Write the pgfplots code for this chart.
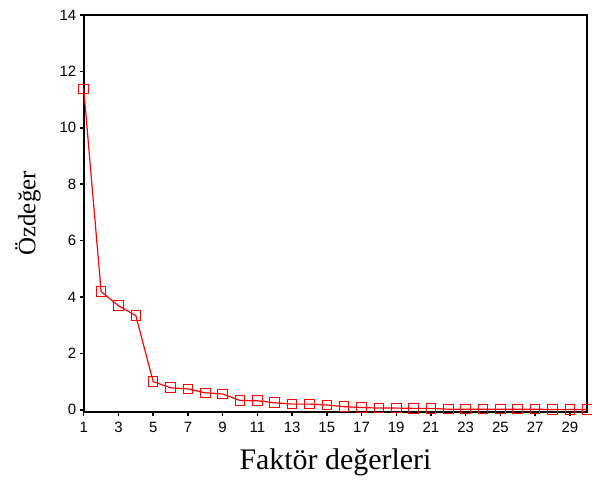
\documentclass[border=0pt]{standalone}
\usepackage{fontspec}
\setmainfont{Liberation Serif}
\newfontfamily\ticksans{Liberation Sans}
\usepackage{pgfplots}
\pgfplotsset{compat=1.18}
\usetikzlibrary{calc}

\begin{document}
\begin{tikzpicture}
\begin{axis}[
  scale only axis,
  width=505bp, height=398bp,
  xmin=1, xmax=30, ymin=-0.07, ymax=14,
  xtick={1,3,...,29}, ytick={0,2,...,14},
  axis line style={line width=1.6pt},
  tick style={line width=1.5pt, black},
  tick align=outside, major tick length=4bp,
  xtick pos=bottom, ytick pos=left,
  ticklabel style={font=\ticksans\fontsize{15bp}{17bp}\selectfont},
  xticklabel style={yshift=-3bp},
  /pgf/number format/assume math mode=true,
  xlabel={Faktör değerleri},
  ylabel={Özdeğer},
  xlabel style={font=\fontsize{30bp}{32bp}\selectfont, yshift=-9bp},
  ylabel style={font=\fontsize{25bp}{28bp}\selectfont, yshift=12bp},
  clip=false,
]
\addplot[red, line width=1.2pt, mark=square, mark size=4.8bp, mark options={line width=1pt, solid}]
  coordinates {
  (1,11.38)(2,4.19)(3,3.69)(4,3.34)(5,1.00)(6,0.78)(7,0.74)(8,0.60)(9,0.56)(10,0.33)
  (11,0.32)(12,0.25)(13,0.20)(14,0.20)(15,0.17)(16,0.11)(17,0.08)(18,0.06)(19,0.06)(20,0.05)
  (21,0.05)(22,0.02)(23,0.02)(24,0.02)(25,0.02)(26,0.02)(27,0.02)(28,0.01)(29,0.01)(30,0.01)
  };
\end{axis}
\path[use as bounding box] ($(current axis.south west)+(-84bp,-62bp)$) rectangle ($(current axis.north east)+(3bp,15bp)$);
\end{tikzpicture}
\end{document}
